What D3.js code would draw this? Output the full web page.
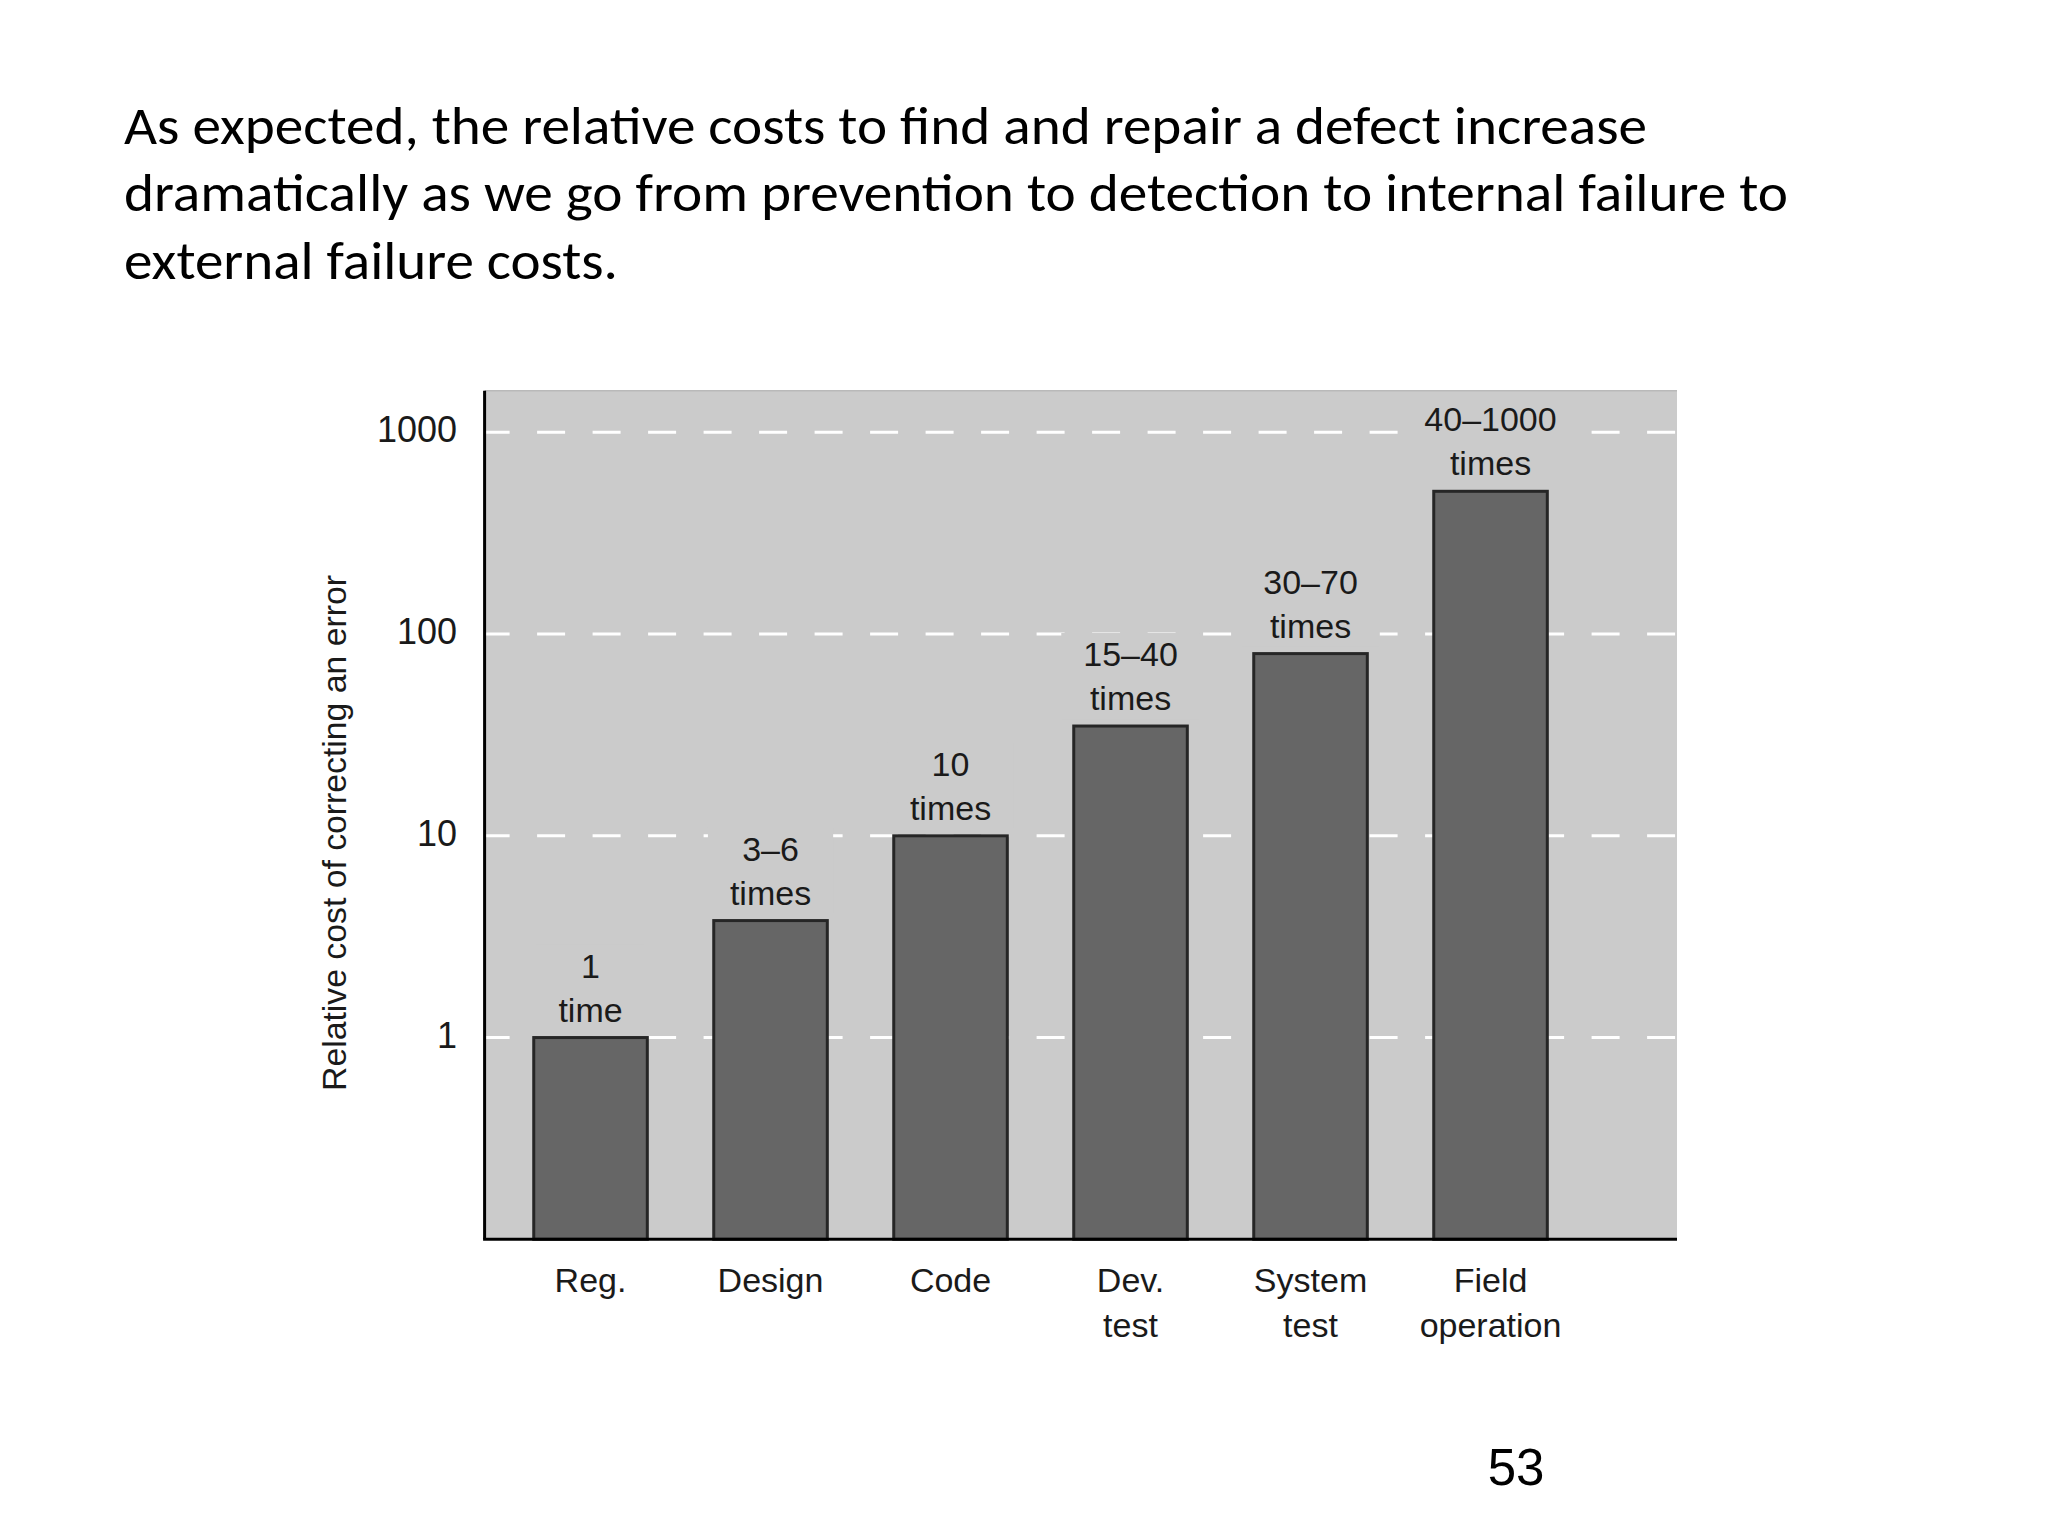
<!DOCTYPE html>
<html>
<head>
<meta charset="utf-8">
<script src="https://cdn.jsdelivr.net/npm/d3@7"></script>
<style>
  html, body { margin: 0; padding: 0; background: #ffffff; }
  svg { display: block; }
</style>
</head>
<body>
<script>
// ---------- data ----------
const titleLines = [
  "As expected, the relative costs to find and repair a defect increase",
  "dramatically as we go from prevention to detection to internal failure to",
  "external failure costs."
];
const categories = ["Reg.", "Design", "Code", "Dev. test", "System test", "Field operation"];
const categoryLines = [["Reg."], ["Design"], ["Code"], ["Dev.", "test"], ["System", "test"], ["Field", "operation"]];
const values = [1, 3.8, 10, 35, 80, 510];
const valueLabels = ["1", "3–6", "10", "15–40", "30–70", "40–1000"];
const unitLabels = ["time", "times", "times", "times", "times", "times"];
const tickValues = [1, 10, 100, 1000];
const yTitle = "Relative cost of correcting an error";
const pageNumber = "53";

// ---------- layout ----------
const W = 2048, H = 1536;
const plot = { left: 484.6, right: 1677, top: 390.7, bottom: 1239.3 };
const chartFont = "'Liberation Sans', Arial, sans-serif";

const svg = d3.select("body").append("svg")
  .attr("width", W).attr("height", H);

// title
const titleWidths = [1523, 1664, 494];
const titleG = svg.append("g")
  .attr("font-family", "Carlito, Lato, 'Open Sans', sans-serif")
  .attr("font-size", 54)
  .attr("fill", "#000");
titleG.selectAll("text").data(titleLines).join("text")
  .attr("x", 124)
  .attr("y", (d, i) => 143.5 + i * 67.5)
  .attr("textLength", (d, i) => titleWidths[i])
  .attr("lengthAdjust", "spacingAndGlyphs")
  .text(d => d);

// scales
const y = d3.scaleLog().domain([0.1, 1000]).range([plot.bottom, 432.3]);
const x = d3.scaleBand()
  .domain(categories)
  .range([plot.left, plot.left + 180 * (6 - 0.369 + 2 * 0.273)])
  .paddingInner(0.369)
  .paddingOuter(0.273);

// plot background
svg.append("rect")
  .attr("x", plot.left).attr("y", plot.top)
  .attr("width", plot.right - plot.left).attr("height", plot.bottom - plot.top)
  .attr("fill", "#cbcbcb");
svg.append("line")
  .attr("x1", plot.left).attr("x2", plot.right)
  .attr("y1", plot.top).attr("y2", plot.top)
  .attr("stroke", "#b9b9b9").attr("stroke-width", 1.5);

// gridlines
svg.append("g").selectAll("line").data(tickValues).join("line")
  .attr("x1", plot.left).attr("x2", plot.right)
  .attr("y1", d => y(d)).attr("y2", d => y(d))
  .attr("stroke", "#ffffff").attr("stroke-width", 3)
  .attr("stroke-dasharray", "28,27.5")
  .attr("stroke-dashoffset", 3);

// bars
svg.append("g").selectAll("rect").data(values).join("rect")
  .attr("x", (d, i) => x(categories[i]))
  .attr("y", d => y(d))
  .attr("width", x.bandwidth())
  .attr("height", d => y(0.1) - y(d))
  .attr("fill", "#666666")
  .attr("stroke", "#262626")
  .attr("stroke-width", 3);

// value labels with masking background
const lblG = svg.append("g")
  .attr("font-family", chartFont)
  .attr("font-size", 34)
  .attr("fill", "#1a1a1a")
  .attr("text-anchor", "middle");
values.forEach((v, i) => {
  const cx = x(categories[i]) + x.bandwidth() / 2;
  const g = lblG.append("g");
  const bg = g.append("rect").attr("fill", "#cbcbcb");
  g.append("text").attr("x", cx).attr("y", y(v) - 60).text(valueLabels[i]);
  g.append("text").attr("x", cx).attr("y", y(v) - 16).text(unitLabels[i]);
  const bb = g.node().getBBox();
  bg.attr("x", bb.x - 22).attr("y", bb.y - 2)
    .attr("width", bb.width + 44).attr("height", bb.height + 4);
});

// axis lines
svg.append("line")
  .attr("x1", plot.left).attr("x2", plot.left)
  .attr("y1", plot.top).attr("y2", plot.bottom)
  .attr("stroke", "#000").attr("stroke-width", 3);
svg.append("line")
  .attr("x1", plot.left - 1.5).attr("x2", plot.right)
  .attr("y1", plot.bottom).attr("y2", plot.bottom)
  .attr("stroke", "#000").attr("stroke-width", 3);

// y axis ticks
const yAxis = d3.axisLeft(y).tickValues(tickValues).tickSize(0).tickPadding(27.6)
  .tickFormat(d3.format("d"));
const yg = svg.append("g").attr("transform", `translate(${plot.left},-2)`).call(yAxis);
yg.select(".domain").remove();
yg.selectAll("text")
  .attr("font-family", chartFont).attr("font-size", 36).attr("fill", "#1a1a1a");

// x axis category labels
const xg = svg.append("g")
  .attr("font-family", chartFont)
  .attr("font-size", 34)
  .attr("fill", "#1a1a1a")
  .attr("text-anchor", "middle");
categoryLines.forEach((lines, i) => {
  const cx = x(categories[i]) + x.bandwidth() / 2;
  lines.forEach((t, j) => {
    xg.append("text").attr("x", cx).attr("y", plot.bottom + 53 + j * 45).text(t);
  });
});

// y title
svg.append("text")
  .attr("transform", `translate(346,833) rotate(-90)`)
  .attr("text-anchor", "middle")
  .attr("font-family", chartFont)
  .attr("font-size", 33)
  .attr("fill", "#1a1a1a")
  .attr("textLength", 516)
  .attr("lengthAdjust", "spacingAndGlyphs")
  .text(yTitle);

// page number
svg.append("text")
  .attr("x", 1516).attr("y", 1485)
  .attr("text-anchor", "middle")
  .attr("font-family", "'Liberation Sans', Arial, sans-serif")
  .attr("font-size", 51)
  .attr("fill", "#000")
  .text(pageNumber);
</script>
</body>
</html>
